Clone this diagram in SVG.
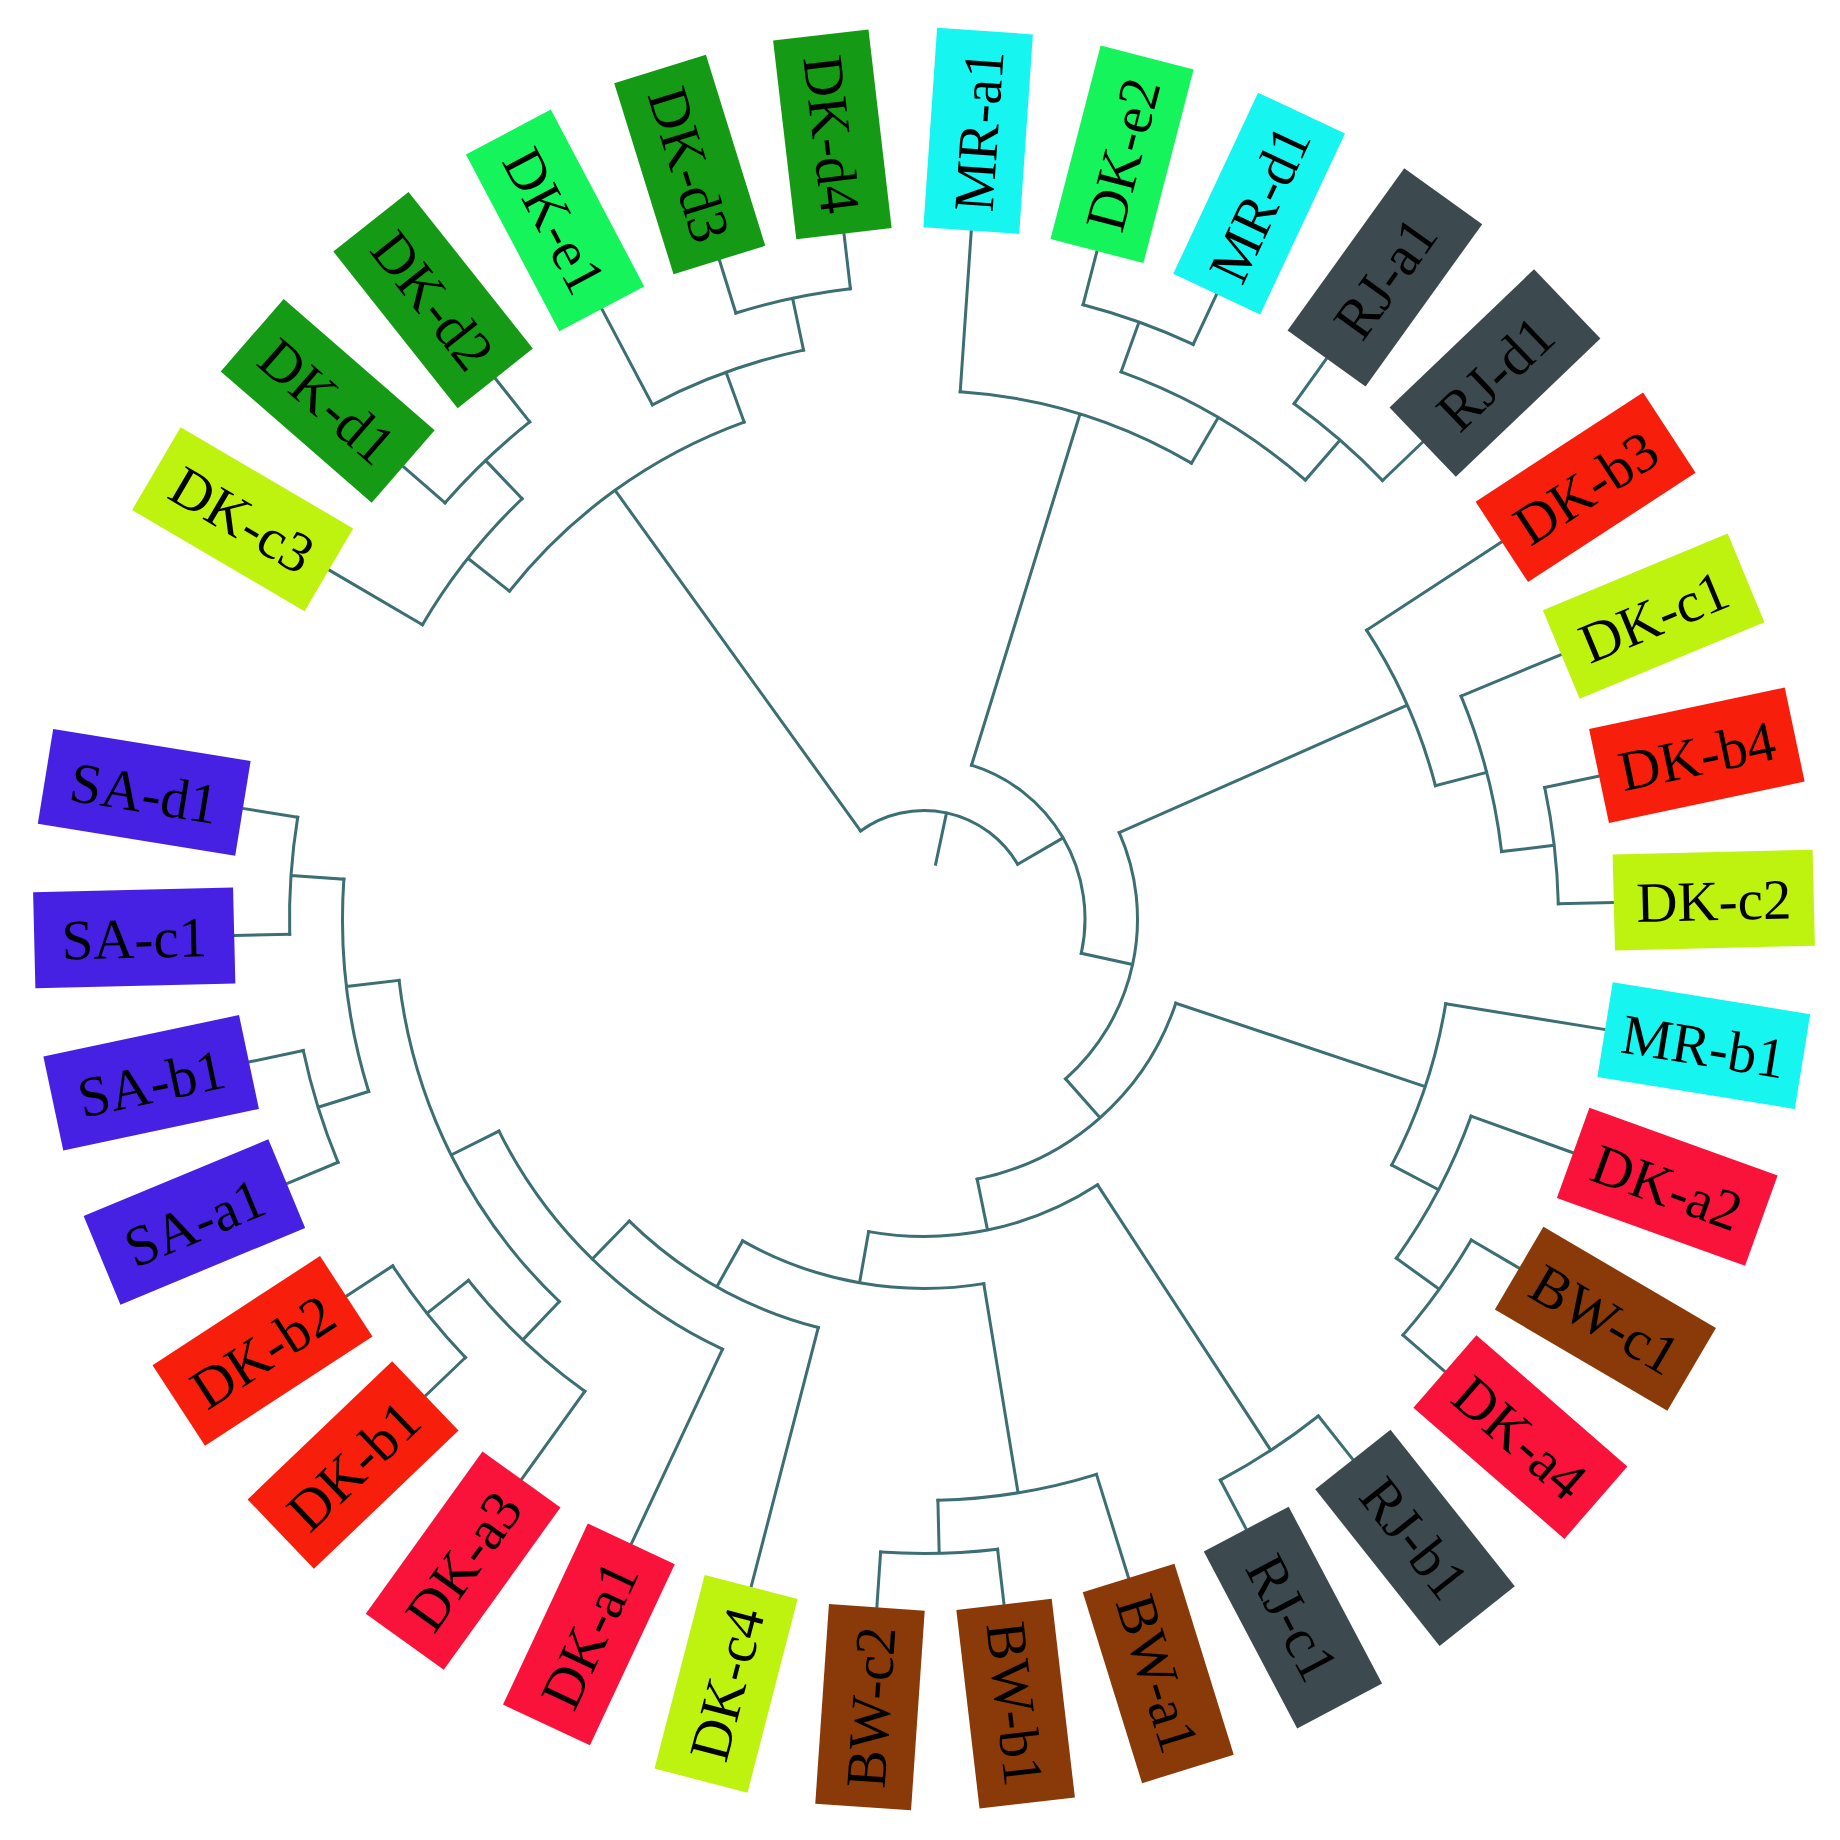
<svg xmlns="http://www.w3.org/2000/svg" width="1840" height="1840" viewBox="0 0 1840 1840">
<style>
.cn path{fill:none;stroke:#3b6f73;stroke-width:3;stroke-linecap:square}
.lb text{font-family:"Liberation Serif","Times New Roman",serif;font-size:57px;fill:#000;text-anchor:middle}
.cc{fill:#bef20f}.dd{fill:#159a15}.ee{fill:#15f55b}.mr{fill:#16f5f0}.rj{fill:#3c4a4f}
.db{fill:#f81e0c}.da{fill:#f9123a}.bw{fill:#8a3a08}.sa{fill:#4621e3}
</style>
<rect width="1840" height="1840" fill="#fff"/>
<g id="connectors" class="cn" transform="translate(924,919)">
<path transform="rotate(-78.025)" d="M56 0H108.5M72.94 -80.32A108.5 108.5 0 0 1 72.94 80.32"/>
<path transform="rotate(-30.27)" d="M108.5 0H161M118.57 -108.92A161 161 0 0 1 118.57 108.92"/>
<path transform="rotate(12.3)" d="M161 0H213.5M172.35 -126A213.5 213.5 0 0 1 172.35 126"/>
<path transform="rotate(48.47)" d="M213.5 0H265.5M229.96 -132.69A265.5 265.5 0 0 1 229.96 132.69"/>
<path transform="rotate(78.455)" d="M265.5 0H317.5M295.22 -116.83A317.5 317.5 0 0 1 295.22 116.83"/>
<path transform="rotate(100.045)" d="M317.5 0H369.5M348.62 -122.46A369.5 369.5 0 0 1 348.62 122.46"/>
<path transform="rotate(119.4)" d="M369.5 0H422M407.83 -108.44A422 422 0 0 1 407.83 108.44"/>
<path transform="rotate(134.29)" d="M422 0H475M448.61 -156.13A475 475 0 0 1 448.61 156.13"/>
<path transform="rotate(153.48)" d="M475 0H528.5M497.1 -179.46A528.5 528.5 0 0 1 497.1 179.46"/>
<path transform="rotate(173.335)" d="M528.5 0H581.5M571.6 -106.87A581.5 581.5 0 0 1 571.6 106.87"/>
<path transform="rotate(183.925)" d="M581.5 0H634.5M631.79 -58.55A634.5 634.5 0 0 1 631.79 58.55"/>
<path transform="rotate(162.745)" d="M581.5 0H634.5M631.79 -58.55A634.5 634.5 0 0 1 631.79 58.55"/>
<path transform="rotate(133.63)" d="M528.5 0H581.5M575.93 -80.33A581.5 581.5 0 0 1 575.93 80.33"/>
<path transform="rotate(141.57)" d="M581.5 0H634.5M631.79 -58.55A634.5 634.5 0 0 1 631.79 58.55"/>
<path transform="rotate(80.69)" d="M369.5 0H581.5M575.93 -80.33A581.5 581.5 0 0 1 575.93 80.33"/>
<path transform="rotate(88.63)" d="M581.5 0H634.5M631.79 -58.55A634.5 634.5 0 0 1 631.79 58.55"/>
<path transform="rotate(56.865)" d="M317.5 0H634.5M631.79 -58.55A634.5 634.5 0 0 1 631.79 58.55"/>
<path transform="rotate(18.485)" d="M265.5 0H528.5M521.61 -85.09A528.5 528.5 0 0 1 521.61 85.09"/>
<path transform="rotate(27.75)" d="M528.5 0H581.5M575.93 -80.33A581.5 581.5 0 0 1 575.93 80.33"/>
<path transform="rotate(35.69)" d="M581.5 0H634.5M631.79 -58.55A634.5 634.5 0 0 1 631.79 58.55"/>
<path transform="rotate(-23.865)" d="M213.5 0H528.5M521.61 -85.09A528.5 528.5 0 0 1 521.61 85.09"/>
<path transform="rotate(-14.6)" d="M528.5 0H581.5M575.93 -80.33A581.5 581.5 0 0 1 575.93 80.33"/>
<path transform="rotate(-6.665)" d="M581.5 0H634.5M631.79 -58.55A634.5 634.5 0 0 1 631.79 58.55"/>
<path transform="rotate(-72.835)" d="M161 0H528.5M514.46 -121A528.5 528.5 0 0 1 514.46 121"/>
<path transform="rotate(-59.6)" d="M528.5 0H581.5M571.6 -106.87A581.5 581.5 0 0 1 571.6 106.87"/>
<path transform="rotate(-70.19)" d="M581.5 0H634.5M631.79 -58.55A634.5 634.5 0 0 1 631.79 58.55"/>
<path transform="rotate(-49.015)" d="M581.5 0H634.5M631.79 -58.55A634.5 634.5 0 0 1 631.79 58.55"/>
<path transform="rotate(-125.78)" d="M108.5 0H528.5M508.33 -144.61A528.5 528.5 0 0 1 508.33 144.61"/>
<path transform="rotate(-141.66)" d="M528.5 0H581.5M575.93 -80.33A581.5 581.5 0 0 1 575.93 80.33"/>
<path transform="rotate(-133.715)" d="M581.5 0H634.5M631.79 -58.55A634.5 634.5 0 0 1 631.79 58.55"/>
<path transform="rotate(-109.9)" d="M528.5 0H581.5M575.93 -80.33A581.5 581.5 0 0 1 575.93 80.33"/>
<path transform="rotate(-101.955)" d="M581.5 0H634.5M631.79 -58.55A634.5 634.5 0 0 1 631.79 58.55"/>
<path transform="rotate(-149.6)" d="M581.5 0H689"/>
<path transform="rotate(-139.01)" d="M634.5 0H689"/>
<path transform="rotate(-128.42)" d="M634.5 0H689"/>
<path transform="rotate(-117.84)" d="M581.5 0H689"/>
<path transform="rotate(-107.25)" d="M634.5 0H689"/>
<path transform="rotate(-96.66)" d="M634.5 0H689"/>
<path transform="rotate(-86.07)" d="M528.5 0H689"/>
<path transform="rotate(-75.48)" d="M634.5 0H689"/>
<path transform="rotate(-64.9)" d="M634.5 0H689"/>
<path transform="rotate(-54.31)" d="M634.5 0H689"/>
<path transform="rotate(-43.72)" d="M634.5 0H689"/>
<path transform="rotate(-33.13)" d="M528.5 0H689"/>
<path transform="rotate(-22.54)" d="M581.5 0H689"/>
<path transform="rotate(-11.96)" d="M634.5 0H689"/>
<path transform="rotate(-1.37)" d="M634.5 0H689"/>
<path transform="rotate(9.22)" d="M528.5 0H689"/>
<path transform="rotate(19.81)" d="M581.5 0H689"/>
<path transform="rotate(30.4)" d="M634.5 0H689"/>
<path transform="rotate(40.98)" d="M634.5 0H689"/>
<path transform="rotate(51.57)" d="M634.5 0H689"/>
<path transform="rotate(62.16)" d="M634.5 0H689"/>
<path transform="rotate(72.75)" d="M581.5 0H689"/>
<path transform="rotate(83.34)" d="M634.5 0H689"/>
<path transform="rotate(93.92)" d="M634.5 0H689"/>
<path transform="rotate(104.51)" d="M422 0H689"/>
<path transform="rotate(115.1)" d="M475 0H689"/>
<path transform="rotate(125.69)" d="M581.5 0H689"/>
<path transform="rotate(136.28)" d="M634.5 0H689"/>
<path transform="rotate(146.86)" d="M634.5 0H689"/>
<path transform="rotate(157.45)" d="M634.5 0H689"/>
<path transform="rotate(168.04)" d="M634.5 0H689"/>
<path transform="rotate(178.63)" d="M634.5 0H689"/>
<path transform="rotate(189.22)" d="M634.5 0H689"/>
</g>
<g class="lb" transform="translate(924,919)">
<g id="DK-c3" transform="rotate(-149.6)"><rect class="cc" x="690" y="-48" width="200" height="96"/><text transform="translate(790 0) rotate(180)" y="20">DK-c3</text></g>
<g id="DK-d1" transform="rotate(-139.01)"><rect class="dd" x="690" y="-48" width="200" height="96"/><text transform="translate(790 0) rotate(180)" y="20">DK-d1</text></g>
<g id="DK-d2" transform="rotate(-128.42)"><rect class="dd" x="690" y="-48" width="200" height="96"/><text transform="translate(790 0) rotate(180)" y="20">DK-d2</text></g>
<g id="DK-e1" transform="rotate(-117.84)"><rect class="ee" x="690" y="-48" width="200" height="96"/><text transform="translate(790 0) rotate(180)" y="20">DK-e1</text></g>
<g id="DK-d3" transform="rotate(-107.25)"><rect class="dd" x="690" y="-48" width="200" height="96"/><text transform="translate(790 0) rotate(180)" y="20">DK-d3</text></g>
<g id="DK-d4" transform="rotate(-96.66)"><rect class="dd" x="690" y="-48" width="200" height="96"/><text transform="translate(790 0) rotate(180)" y="20">DK-d4</text></g>
<g id="MR-a1" transform="rotate(-86.07)"><rect class="mr" x="690" y="-48" width="200" height="96"/><text x="790" y="20">MR-a1</text></g>
<g id="DK-e2" transform="rotate(-75.48)"><rect class="ee" x="690" y="-48" width="200" height="96"/><text x="790" y="20">DK-e2</text></g>
<g id="MR-d1" transform="rotate(-64.9)"><rect class="mr" x="690" y="-48" width="200" height="96"/><text x="790" y="20">MR-d1</text></g>
<g id="RJ-a1" transform="rotate(-54.31)"><rect class="rj" x="690" y="-48" width="200" height="96"/><text x="790" y="20">RJ-a1</text></g>
<g id="RJ-d1" transform="rotate(-43.72)"><rect class="rj" x="690" y="-48" width="200" height="96"/><text x="790" y="20">RJ-d1</text></g>
<g id="DK-b3" transform="rotate(-33.13)"><rect class="db" x="690" y="-48" width="200" height="96"/><text x="790" y="20">DK-b3</text></g>
<g id="DK-c1" transform="rotate(-22.54)"><rect class="cc" x="690" y="-48" width="200" height="96"/><text x="790" y="20">DK-c1</text></g>
<g id="DK-b4" transform="rotate(-11.96)"><rect class="db" x="690" y="-48" width="200" height="96"/><text x="790" y="20">DK-b4</text></g>
<g id="DK-c2" transform="rotate(-1.37)"><rect class="cc" x="690" y="-48" width="200" height="96"/><text x="790" y="20">DK-c2</text></g>
<g id="MR-b1" transform="rotate(9.22)"><rect class="mr" x="690" y="-48" width="200" height="96"/><text x="790" y="20">MR-b1</text></g>
<g id="DK-a2" transform="rotate(19.81)"><rect class="da" x="690" y="-48" width="200" height="96"/><text x="790" y="20">DK-a2</text></g>
<g id="BW-c1" transform="rotate(30.4)"><rect class="bw" x="690" y="-48" width="200" height="96"/><text x="790" y="20">BW-c1</text></g>
<g id="DK-a4" transform="rotate(40.98)"><rect class="da" x="690" y="-48" width="200" height="96"/><text x="790" y="20">DK-a4</text></g>
<g id="RJ-b1" transform="rotate(51.57)"><rect class="rj" x="690" y="-48" width="200" height="96"/><text x="790" y="20">RJ-b1</text></g>
<g id="RJ-c1" transform="rotate(62.16)"><rect class="rj" x="690" y="-48" width="200" height="96"/><text x="790" y="20">RJ-c1</text></g>
<g id="BW-a1" transform="rotate(72.75)"><rect class="bw" x="690" y="-48" width="200" height="96"/><text x="790" y="20">BW-a1</text></g>
<g id="BW-b1" transform="rotate(83.34)"><rect class="bw" x="690" y="-48" width="200" height="96"/><text x="790" y="20">BW-b1</text></g>
<g id="BW-c2" transform="rotate(93.92)"><rect class="bw" x="690" y="-48" width="200" height="96"/><text transform="translate(790 0) rotate(180)" y="20">BW-c2</text></g>
<g id="DK-c4" transform="rotate(104.51)"><rect class="cc" x="690" y="-48" width="200" height="96"/><text transform="translate(790 0) rotate(180)" y="20">DK-c4</text></g>
<g id="DK-a1" transform="rotate(115.1)"><rect class="da" x="690" y="-48" width="200" height="96"/><text transform="translate(790 0) rotate(180)" y="20">DK-a1</text></g>
<g id="DK-a3" transform="rotate(125.69)"><rect class="da" x="690" y="-48" width="200" height="96"/><text transform="translate(790 0) rotate(180)" y="20">DK-a3</text></g>
<g id="DK-b1" transform="rotate(136.28)"><rect class="db" x="690" y="-48" width="200" height="96"/><text transform="translate(790 0) rotate(180)" y="20">DK-b1</text></g>
<g id="DK-b2" transform="rotate(146.86)"><rect class="db" x="690" y="-48" width="200" height="96"/><text transform="translate(790 0) rotate(180)" y="20">DK-b2</text></g>
<g id="SA-a1" transform="rotate(157.45)"><rect class="sa" x="690" y="-48" width="200" height="96"/><text transform="translate(790 0) rotate(180)" y="20">SA-a1</text></g>
<g id="SA-b1" transform="rotate(168.04)"><rect class="sa" x="690" y="-48" width="200" height="96"/><text transform="translate(790 0) rotate(180)" y="20">SA-b1</text></g>
<g id="SA-c1" transform="rotate(178.63)"><rect class="sa" x="690" y="-48" width="200" height="96"/><text transform="translate(790 0) rotate(180)" y="20">SA-c1</text></g>
<g id="SA-d1" transform="rotate(189.22)"><rect class="sa" x="690" y="-48" width="200" height="96"/><text transform="translate(790 0) rotate(180)" y="20">SA-d1</text></g>
</g>
</svg>
